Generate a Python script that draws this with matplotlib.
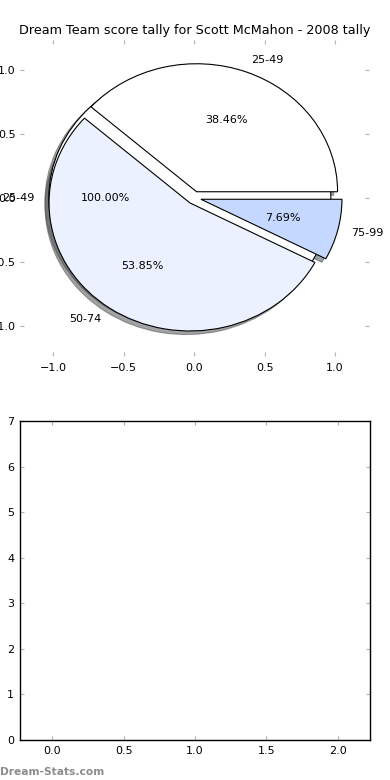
import matplotlib
matplotlib.use('Agg')
import matplotlib.pyplot as plt

# score bands and counts
single_labels = ['25-49']
single_values = [13]
band_labels = ['25-49', '50-74', '75-99']
band_counts = [5, 7, 1]
band_colors = ['#ffffff', '#ebf1fe', '#c5d8ff']
explode = [0.05, 0.05, 0.05]

title = 'Dream Team score tally for Scott McMahon - 2008 tally'

fig = plt.figure(figsize=(3.9, 7.8), dpi=100)
fig.patch.set_facecolor('white')

wedge_style = {'edgecolor': 'black', 'linewidth': 0.8}

# top: pie
ax = fig.add_axes([0.051, 0.544, 0.895, 0.405])
ax.pie(single_values, labels=single_labels, colors=['#ffffff'], explode=[0.03],
       autopct='%1.2f%%', shadow=True, frame=True, wedgeprops=wedge_style,
       textprops={'fontsize': 8})
ax.pie(band_counts, labels=band_labels, colors=band_colors, explode=explode,
       autopct='%1.2f%%', shadow=True, frame=True, wedgeprops=wedge_style,
       textprops={'fontsize': 8})
ax.set_aspect('auto')
ax.set_frame_on(False)
ax.set_xlim(-1.235, 1.24)
ax.set_ylim(-1.234, 1.234)
ax.set_xticks([-1.0, -0.5, 0.0, 0.5, 1.0])
ax.set_yticks([-1.0, -0.5, 0.0, 0.5, 1.0])
ax.tick_params(direction='in', length=3, color='0.7', labelsize=8, pad=3,
               top=True, right=True)
ax.tick_params(axis='x', pad=5)
ax.set_title(title, fontsize=9.2, pad=4)

# bottom: empty axes
ax2 = fig.add_axes([0.0505, 0.0513, 0.898, 0.409])
ax2.set_xlim(-0.228, 2.225)
ax2.set_ylim(0, 7)
ax2.set_xticks([0.0, 0.5, 1.0, 1.5, 2.0])
ax2.set_yticks(range(8))
ax2.tick_params(direction='in', length=3, color='0.7', labelsize=8, pad=4,
                top=True, right=True)
for s in ax2.spines.values():
    s.set_linewidth(1.0)

fig.text(0.0, 0.004, 'Dream-Stats.com', color='0.55', fontsize=7.7,
         fontweight='bold', ha='left', va='bottom')

fig.savefig('out.png', dpi=100)
